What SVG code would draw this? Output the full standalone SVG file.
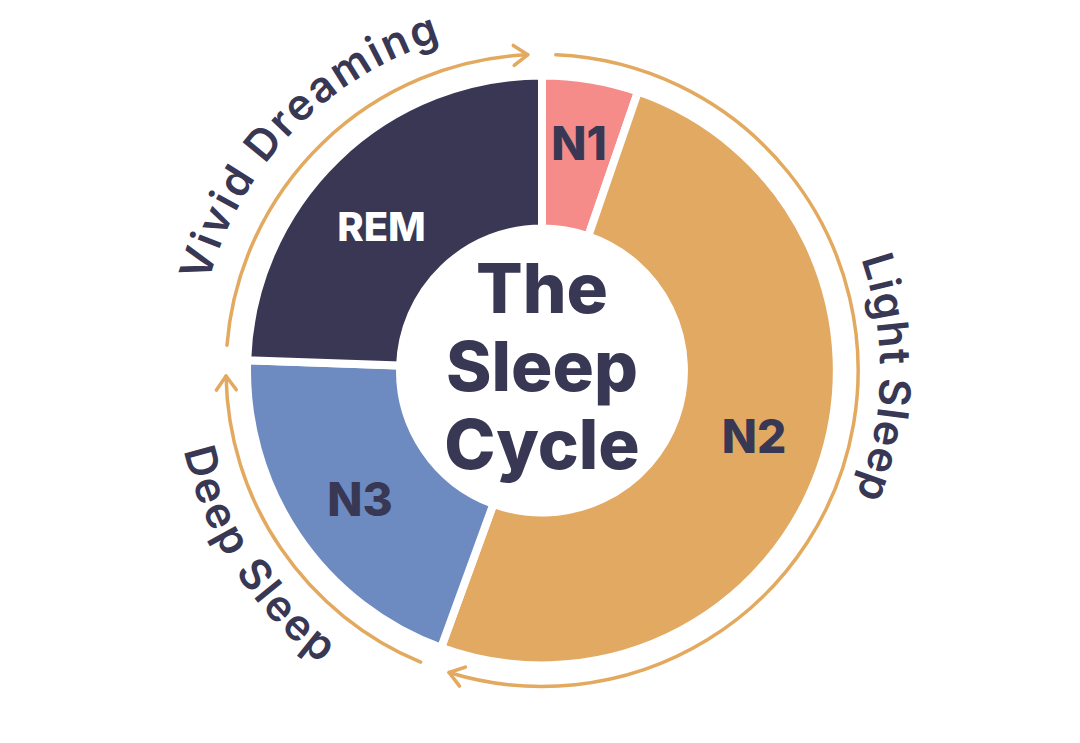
<svg xmlns="http://www.w3.org/2000/svg" width="1080" height="743" viewBox="0 0 1080 743">
  <style>
    .slice { stroke: #ffffff; stroke-width: 8; stroke-linejoin: miter; }
    .ring { fill: none; stroke: #E2A95F; stroke-width: 3.5; stroke-linecap: round; }
    .lbl { font-family: Inter, "Liberation Sans", sans-serif; font-weight: 800; text-anchor: middle; }
    .arcTxt { font-family: Inter, "Liberation Sans", sans-serif; font-weight: 600; font-size: 43px; fill: #383754; }
    .title { font-family: Inter, "Liberation Sans", sans-serif; font-weight: 800; font-size: 69px; fill: #383754; text-anchor: middle; }
  </style>
  <defs>
    <marker id="chev" markerUnits="userSpaceOnUse" markerWidth="24" markerHeight="24" viewBox="0 0 24 24" refX="20" refY="12" orient="auto" overflow="visible">
      <path d="M6,2 L20,12 L6,22" fill="none" stroke="#E2A95F" stroke-width="3.5" stroke-linecap="round" stroke-linejoin="round"/>
    </marker>
    <path id="pVivid" d="M210.4,465.6 A345,345 0 0 1 625.5,35.75"/>
    <path id="pLight" d="M717.6,81.7 A338,338 0 0 1 704.3,667.0"/>
    <path id="pDeep" d="M215.0,203.9 A367,367 0 0 0 561.2,737.0"/>
  </defs>
  <rect width="1080" height="743" fill="#ffffff"/>

  <g id="connectors">
    <path class="ring" marker-end="url(#chev)" d="M227.0,345.2 A316,316 0 0 1 527.7,54.8"/>
    <path class="ring" marker-end="url(#chev)" d="M555.8,54.8 A316,316 0 1 1 449.1,672.5"/>
    <path class="ring" marker-end="url(#chev)" d="M420.6,662.2 A316,316 0 0 1 226.05,376.0"/>
  </g>

  <g id="n1">
    <path class="slice" fill="#F58C89" d="M542,75.5 A295,295 0 0 1 638.04,91.57 L588.23,236.24 A142,142 0 0 0 542,228.5 Z"/>
    <text class="lbl" x="579" y="160" font-size="46" fill="#383754">N1</text>
  </g>
  <g id="n2">
    <path class="slice" fill="#E2A962" d="M638.04,91.57 A295,295 0 1 1 441.10,647.71 L493.43,503.94 A142,142 0 1 0 588.23,236.24 Z"/>
    <text class="lbl" x="754" y="453" font-size="46" fill="#383754">N2</text>
  </g>
  <g id="n3">
    <path class="slice" fill="#6E8BC1" d="M441.10,647.71 A295,295 0 0 1 247.18,360.20 L400.09,365.54 A142,142 0 0 0 493.43,503.94 Z"/>
    <text class="lbl" x="360" y="516" font-size="46" fill="#383754">N3</text>
  </g>
  <g id="rem">
    <path class="slice" fill="#393754" d="M247.18,360.20 A295,295 0 0 1 542,75.5 L542,228.5 A142,142 0 0 0 400.09,365.54 Z"/>
    <text class="lbl" x="381.5" y="241" font-size="40" fill="#ffffff">REM</text>
  </g>

  <g id="title">
    <text class="title" x="542" y="313">The</text>
    <text class="title" x="542" y="391">Sleep</text>
    <text class="title" x="542" y="469">Cycle</text>
  </g>

  <g id="vivid-dreaming">
    <text class="arcTxt" letter-spacing="2.5"><textPath href="#pVivid" startOffset="50%" text-anchor="middle">Vivid Dreaming</textPath></text>
  </g>
  <g id="light-sleep">
    <text class="arcTxt" letter-spacing="1"><textPath href="#pLight" startOffset="50%" text-anchor="middle">Light Sleep</textPath></text>
  </g>
  <g id="deep-sleep">
    <text class="arcTxt" letter-spacing="2.5"><textPath href="#pDeep" startOffset="50%" text-anchor="middle">Deep Sleep</textPath></text>
  </g>
</svg>
